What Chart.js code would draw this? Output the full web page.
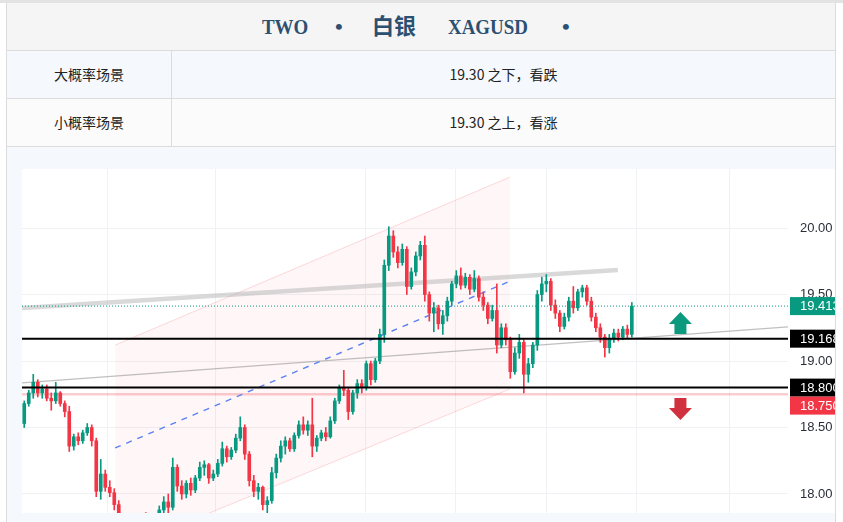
<!DOCTYPE html>
<html>
<head>
<meta charset="utf-8">
<script src="https://cdn.jsdelivr.net/npm/chart.js@4.4.1/dist/chart.umd.min.js"></script>
<style>
  html, body { margin: 0; padding: 0; background: #fff; width: 843px; height: 522px; overflow: hidden; }
  .topline { position: absolute; left: 0; top: 0; width: 843px; height: 3px; background: #e3e3e3; }
  .wrap { position: absolute; left: 6px; top: 3px; width: 828px; height: 540px;
          border-left: 1px solid #dcdcdc; border-right: 1px solid #dcdcdc; }
  .row { position: absolute; left: 0; width: 828px; height: 47px; border-bottom: 1px solid #dcdcdc; }
  .title { top: 0; background: #f5f5f5; font-family: "Liberation Serif", "Noto Sans CJK SC", serif;
           font-size: 22px; font-weight: bold; color: #2b5072; line-height: 47px; }
  .title span { position: absolute; top: 0; white-space: nowrap; }
  .title .lat { display: inline-block; transform: scaleX(0.86); transform-origin: left center; }
  .r2 { top: 48px; background: #f5f8fd; }
  .r3 { top: 96px; background: #fbfbfb; }
  .cell { position: absolute; top: 0; height: 47px; line-height: 47px; text-align: center;
          font-family: "Noto Sans CJK SC", sans-serif; font-size: 14px; color: #222; }
  .c1 { left: 0; width: 164px; border-right: 1px solid #dcdcdc; }
  .c2 { left: 165px; width: 663px; }
  .chartcell { position: absolute; left: 0; top: 144px; width: 828px; height: 400px;
               background: #f5f8fd; overflow: hidden; }
  #chart { position: absolute; left: 15px; top: 22px; background: #fff; }
</style>
</head>
<body>
<div class="topline"></div>
<div class="wrap">
  <div class="row title">
    <span class="lat" style="left:255px">TWO</span>
    <span style="left:328px">•</span>
    <span style="left:365px">白银</span>
    <span class="lat" style="left:441px">XAGUSD</span>
    <span style="left:555px">•</span>
  </div>
  <div class="row r2"><div class="cell c1">大概率场景</div><div class="cell c2">19.30 之下，看跌</div></div>
  <div class="row r3"><div class="cell c1">小概率场景</div><div class="cell c2">19.30 之上，看涨</div></div>
  <div class="chartcell"><canvas id="chart" width="821" height="344"></canvas></div>
</div>
<script>
// OHLC candles, one per slot from the left edge
const opens = [
  18.53, 18.68, 18.76, 18.84, 18.76, 18.79, 18.72, 18.70, 18.76, 18.68,
  18.62, 18.36, 18.43, 18.40, 18.46, 18.50, 18.40, 18.02, 18.15, 18.05,
  18.01, 17.92, 17.82, 17.74, 17.77, 17.72, 17.76, 17.80, 17.78, 17.74,
  17.80, 17.88, 17.94, 17.90, 18.20, 18.06, 18.00, 18.08, 18.03, 18.12,
  18.20, 18.22, 18.12, 18.15, 18.23, 18.34, 18.28, 18.33, 18.42, 18.50,
  18.30, 18.10, 18.02, 18.05, 17.92, 17.95, 18.16, 18.27, 18.36, 18.40,
  18.34, 18.44, 18.52, 18.48, 18.52, 18.36, 18.42, 18.46, 18.43, 18.55,
  18.70, 18.80, 18.78, 18.62, 18.76, 18.83, 18.80, 18.98, 18.86, 19.00,
  19.20, 19.72, 19.94, 19.82, 19.74, 19.84, 19.56, 19.67, 19.79, 19.87,
  19.50, 19.36, 19.40, 19.28, 19.34, 19.45, 19.58, 19.64, 19.57, 19.63,
  19.54, 19.62, 19.48, 19.42, 19.32, 19.38, 19.12, 19.25, 19.16, 18.92,
  19.06, 19.14, 18.90, 18.98, 19.12, 19.50, 19.58, 19.60, 19.42, 19.36,
  19.26, 19.33, 19.45, 19.40, 19.52, 19.55, 19.45, 19.33, 19.25, 19.18,
  19.10, 19.17, 19.21, 19.18, 19.24, 19.20
];
const highs = [
  18.70, 18.78, 18.90, 18.86, 18.82, 18.82, 18.76, 18.84, 18.77, 18.70,
  18.66, 18.45, 18.46, 18.48, 18.53, 18.52, 18.42, 18.26, 18.18, 18.10,
  18.04, 17.95, 17.85, 17.80, 17.81, 17.79, 17.84, 17.86, 17.83, 17.82,
  17.91, 17.98, 18.00, 18.27, 18.22, 18.10, 18.10, 18.12, 18.14, 18.24,
  18.25, 18.23, 18.18, 18.26, 18.39, 18.36, 18.35, 18.45, 18.58, 18.52,
  18.32, 18.14, 18.08, 18.06, 17.98, 18.20, 18.30, 18.40, 18.43, 18.42,
  18.46, 18.55, 18.58, 18.55, 18.72, 18.44, 18.48, 18.50, 18.58, 18.72,
  18.82, 18.93, 18.80, 18.78, 18.86, 18.86, 19.00, 19.00, 19.02, 19.24,
  19.76, 20.01, 19.98, 19.86, 19.88, 19.86, 19.70, 19.82, 19.90, 19.94,
  19.52, 19.44, 19.42, 19.38, 19.48, 19.60, 19.68, 19.70, 19.66, 19.65,
  19.68, 19.64, 19.52, 19.44, 19.42, 19.58, 19.28, 19.28, 19.18, 19.10,
  19.20, 19.16, 19.02, 19.14, 19.53, 19.63, 19.65, 19.62, 19.46, 19.38,
  19.36, 19.48, 19.56, 19.54, 19.57, 19.57, 19.48, 19.36, 19.28, 19.20,
  19.20, 19.24, 19.24, 19.26, 19.27, 19.44
];
const lows = [
  18.50, 18.66, 18.72, 18.73, 18.72, 18.70, 18.63, 18.68, 18.66, 18.58,
  18.32, 18.33, 18.37, 18.38, 18.44, 18.36, 17.98, 17.96, 18.02, 17.98,
  17.88, 17.78, 17.70, 17.66, 17.68, 17.65, 17.70, 17.74, 17.70, 17.70,
  17.78, 17.84, 17.84, 17.88, 18.02, 17.96, 17.97, 17.99, 18.01, 18.10,
  18.14, 18.08, 18.10, 18.13, 18.21, 18.24, 18.26, 18.31, 18.40, 18.26,
  18.06, 17.98, 17.96, 17.88, 17.85, 17.93, 18.12, 18.24, 18.30, 18.32,
  18.32, 18.42, 18.45, 18.44, 18.28, 18.32, 18.40, 18.40, 18.42, 18.53,
  18.68, 18.74, 18.56, 18.60, 18.72, 18.76, 18.78, 18.82, 18.84, 18.98,
  19.14, 19.68, 19.78, 19.70, 19.72, 19.50, 19.54, 19.64, 19.76, 19.45,
  19.30, 19.22, 19.24, 19.20, 19.30, 19.42, 19.55, 19.54, 19.55, 19.50,
  19.52, 19.45, 19.38, 19.28, 19.30, 19.06, 19.10, 19.12, 18.87, 18.90,
  19.02, 18.76, 18.84, 18.95, 19.08, 19.45, 19.52, 19.38, 19.32, 19.22,
  19.24, 19.30, 19.36, 19.38, 19.48, 19.42, 19.30, 19.22, 19.14, 19.03,
  19.06, 19.14, 19.15, 19.16, 19.17, 19.18
];
const closes = [
  18.68, 18.76, 18.84, 18.76, 18.79, 18.72, 18.70, 18.76, 18.68, 18.62,
  18.36, 18.43, 18.40, 18.46, 18.50, 18.40, 18.02, 18.15, 18.05, 18.01,
  17.92, 17.82, 17.74, 17.77, 17.72, 17.76, 17.80, 17.78, 17.74, 17.80,
  17.88, 17.94, 17.90, 18.20, 18.06, 18.00, 18.08, 18.03, 18.12, 18.20,
  18.22, 18.12, 18.15, 18.23, 18.34, 18.28, 18.33, 18.42, 18.50, 18.30,
  18.10, 18.02, 18.05, 17.92, 17.95, 18.16, 18.27, 18.36, 18.40, 18.34,
  18.44, 18.52, 18.48, 18.52, 18.36, 18.42, 18.46, 18.43, 18.55, 18.70,
  18.80, 18.78, 18.62, 18.76, 18.83, 18.80, 18.98, 18.86, 19.00, 19.20,
  19.72, 19.94, 19.82, 19.74, 19.84, 19.56, 19.67, 19.79, 19.87, 19.50,
  19.36, 19.40, 19.28, 19.34, 19.45, 19.58, 19.64, 19.57, 19.63, 19.54,
  19.62, 19.48, 19.42, 19.32, 19.38, 19.12, 19.25, 19.16, 18.92, 19.06,
  19.14, 18.90, 18.98, 19.12, 19.50, 19.58, 19.60, 19.42, 19.36, 19.26,
  19.33, 19.45, 19.40, 19.52, 19.55, 19.45, 19.33, 19.25, 19.18, 19.10,
  19.17, 19.21, 19.18, 19.24, 19.20, 19.413
];

// axis range and ticks (x = candle slot index)
const xRange = [-0.5, 169.7];
const yRange = [17.857, 20.444];
const priceTicks = [18.0, 18.5, 19.0, 19.5, 20.0];
const timeGrid = [18.4, 42.6, 75.9, 95.9, 116.1, 136.1, 156.6];

// drawn lines as [slot, price] end points
const resistanceLine = [[-0.5, 19.398], [131.9, 19.684]];
const supportLine = [[-0.5, 18.835], [169.7, 19.256]];
const channelTop = [[20.2, 19.12], [107.9, 20.383]];
const channelBottom = [[20.2, 17.564], [107.9, 18.789]];
const channelMid = [[20.2, 18.346], [107.5, 19.594]];

// horizontal levels and their axis tags
const lastPrice = 19.413;
const blackLevels = [19.168, 18.80];
const stopLevel = 18.75;
const levelTags = [
  { value: 19.413, text: '19.413', bg: '#089981' },
  { value: 19.168, text: '19.168', bg: '#000000' },
  { value: 18.80, text: '18.800', bg: '#000000' },
  { value: 18.75, text: '18.750', bg: '#f23645' }
];

// arrows: slot, start price, end (tip) price
const arrowUp = [145.8, 19.203, 19.368];
const arrowDown = [145.8, 18.722, 18.556];

const UP = '#089981', DOWN = '#f23645';
const candleColors = closes.map((c, i) => c >= opens[i] ? UP : DOWN);
const seg = pts => pts.map(p => ({ x: p[0], y: p[1] }));
const flat = v => seg([[xRange[0], v], [xRange[1], v]]);

function drawArrow(ctx, x, yFrom, yTo, color) {
  const dir = yTo < yFrom ? -1 : 1; // -1 points up
  const head = 12, halfHead = 11.5, halfStem = 6;
  const yNeck = yTo - dir * head;
  ctx.save();
  ctx.fillStyle = color;
  ctx.beginPath();
  ctx.moveTo(x - halfStem, yFrom);
  ctx.lineTo(x + halfStem, yFrom);
  ctx.lineTo(x + halfStem, yNeck);
  ctx.lineTo(x + halfHead, yNeck);
  ctx.lineTo(x, yTo);
  ctx.lineTo(x - halfHead, yNeck);
  ctx.lineTo(x - halfStem, yNeck);
  ctx.closePath();
  ctx.fill();
  ctx.restore();
}

const overlay = {
  id: 'overlay',
  afterDraw(chart) {
    const { ctx, chartArea, scales: { x, y } } = chart;
    drawArrow(ctx, x.getPixelForValue(arrowUp[0]), y.getPixelForValue(arrowUp[1]), y.getPixelForValue(arrowUp[2]), '#0c9a7f');
    drawArrow(ctx, x.getPixelForValue(arrowDown[0]), y.getPixelForValue(arrowDown[1]), y.getPixelForValue(arrowDown[2]), '#d1303f');

    const h = 18;
    let prevBottom = -Infinity;
    ctx.save();
    ctx.font = '13px "Liberation Sans", Arial, sans-serif';
    ctx.textBaseline = 'middle';
    levelTags.forEach(t => {
      let cy = y.getPixelForValue(t.value);
      if (cy - h / 2 < prevBottom) cy = prevBottom + h / 2;
      prevBottom = cy + h / 2;
      ctx.fillStyle = t.bg;
      ctx.fillRect(chartArea.right + 2, cy - h / 2, chart.width - chartArea.right, h);
      ctx.fillStyle = '#ffffff';
      ctx.fillText(t.text, chartArea.right + 12, cy + 0.5);
    });
    ctx.restore();
  }
};

const noPad = s => { s.paddingTop = 0; s.paddingBottom = 0; s.paddingLeft = 0; s.paddingRight = 0; };

new Chart(document.getElementById('chart'), {
  type: 'bar',
  data: {
    datasets: [
      { type: 'line', data: seg(channelTop), borderColor: 'rgba(242,54,69,0.18)', borderWidth: 1,
        fill: '+1', backgroundColor: 'rgba(242,54,69,0.045)', pointRadius: 0, order: 20 },
      { type: 'line', data: seg(channelBottom), borderColor: 'rgba(242,54,69,0.18)', borderWidth: 1,
        fill: false, pointRadius: 0, order: 20 },
      { type: 'line', data: flat(stopLevel), borderColor: 'rgba(242,54,69,0.25)', borderWidth: 2.5,
        pointRadius: 0, order: 6 },
      { type: 'line', data: seg(resistanceLine), borderColor: 'rgba(185,185,185,0.55)', borderWidth: 4.5,
        pointRadius: 0, order: 5 },
      { type: 'line', data: seg(supportLine), borderColor: 'rgba(150,150,150,0.6)', borderWidth: 1.3,
        pointRadius: 0, order: 5 },
      { type: 'line', data: seg(channelMid), borderColor: '#5a82f4', borderWidth: 1.4, borderDash: [6, 6],
        pointRadius: 0, order: 4 },
      { data: lows.map((l, i) => ({ x: i, y: [l, highs[i]] })), backgroundColor: candleColors,
        barThickness: 1, grouped: false, order: 2 },
      { data: opens.map((o, i) => ({ x: i, y: [Math.min(o, closes[i]), Math.max(o, closes[i])] })),
        backgroundColor: candleColors, barThickness: 3, minBarLength: 1, grouped: false, order: 1 },
      { type: 'line', data: flat(blackLevels[0]), borderColor: '#000', borderWidth: 2, pointRadius: 0, order: 0 },
      { type: 'line', data: flat(blackLevels[1]), borderColor: '#000', borderWidth: 2, pointRadius: 0, order: 0 },
      { type: 'line', data: flat(lastPrice), borderColor: UP, borderWidth: 1, borderDash: [1, 2],
        pointRadius: 0, order: 0 }
    ]
  },
  options: {
    responsive: false,
    animation: false,
    devicePixelRatio: 1,
    layout: { padding: 0, autoPadding: false },
    plugins: { legend: { display: false }, tooltip: { enabled: false } },
    scales: {
      x: {
        type: 'linear', min: xRange[0], max: xRange[1], offset: false,
        afterBuildTicks: a => { a.ticks = timeGrid.map(v => ({ value: v })); },
        afterFit: s => { s.height = 0; noPad(s); },
        ticks: { display: false },
        grid: { color: '#f0f1f4', drawTicks: false, offset: false },
        border: { display: false }
      },
      y: {
        position: 'right', min: yRange[0], max: yRange[1],
        afterBuildTicks: a => { a.ticks = priceTicks.map(v => ({ value: v })); },
        afterFit: s => { s.width = 55; noPad(s); },
        ticks: { color: '#2a2e39', padding: 12, font: { family: '"Liberation Sans", Arial, sans-serif', size: 13 },
                 callback: v => v.toFixed(2) },
        grid: { color: '#f0f1f4', drawTicks: false },
        border: { display: false }
      }
    }
  },
  plugins: [overlay]
});
</script>
</body>
</html>
